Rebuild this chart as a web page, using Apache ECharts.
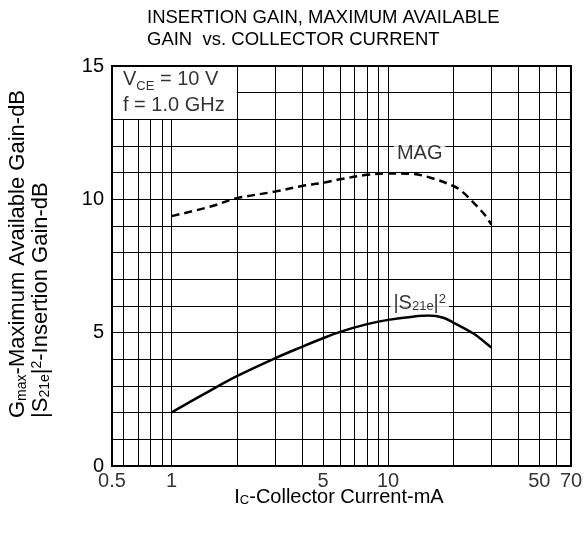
<!DOCTYPE html>
<html><head><meta charset="utf-8">
<script src="https://cdn.jsdelivr.net/npm/echarts@6/dist/echarts.min.js"></script>
<style>html,body{margin:0;padding:0;background:#fff}#c{width:587px;height:533px}</style>
</head><body><div id="c"></div>
<script>
// ---- data ----
const magCurrent = [1, 1.5, 2, 3, 4, 5, 6, 8, 10, 13, 16, 20, 22, 25, 28, 30];
const magGain    = [9.37, 9.72, 10.04, 10.29, 10.5, 10.62, 10.75, 10.92, 10.97, 10.95, 10.79, 10.5, 10.29, 9.85, 9.41, 9.05];
const s21Current = [1, 1.5, 2, 3, 4, 5, 6, 8, 10, 13, 15.5, 18, 20, 25, 28, 30];
const s21Gain    = [2.01, 2.82, 3.37, 4.04, 4.47, 4.79, 5.03, 5.32, 5.48, 5.6, 5.64, 5.56, 5.38, 4.95, 4.64, 4.44];
const xTickValues = [0.5, 1, 5, 10, 50, 70];
const xTickLabels = ['0.5', '1', '5', '10', '50', '70'];
const xGridValues = [0.6, 0.7, 0.8, 0.9, 1, 2, 3, 4, 5, 6, 7, 8, 9, 10, 20, 30, 40, 50, 60];
const yGridValues = [1, 2, 3, 4, 5, 6, 7, 8, 9, 10, 11, 12, 13, 14];
const yTickLabelsEvery = 5;
const xMin = 0.53, xMax = 70, yMin = 0, yMax = 15;
// condition box (top-left) spans x: xMin..2, y: 13..15
const boxX = 2, boxY = 13;

const FONT = 'Liberation Sans, Arial, sans-serif';
const chart = echarts.init(document.getElementById('c'), null, {renderer: 'canvas'});

const rich = {
  n: {fontSize: 20, fontFamily: FONT, color: '#000'},
  s: {fontSize: 13, fontFamily: FONT, color: '#000', verticalAlign: 'bottom'},
  p: {fontSize: 13, fontFamily: FONT, color: '#000', verticalAlign: 'top'}
};
const grich = {
  n: {fontSize: 22, fontFamily: FONT, fill: '#000'},
  s: {fontSize: 14, fontFamily: FONT, fill: '#000', verticalAlign: 'bottom'},
  p: {fontSize: 14, fontFamily: FONT, fill: '#000', verticalAlign: 'top'}
};

// grid line segments, leaving the condition box clear
const gridSegments = [];
xGridValues.forEach(v => {
  const top = v < boxX ? boxY : yMax;
  gridSegments.push([{coord: [v, yMin]}, {coord: [v, top]}]);
});
yGridValues.forEach(v => {
  const left = v > boxY ? boxX : xMin;
  gridSegments.push([{coord: [left, v]}, {coord: [xMax, v]}]);
});

chart.setOption({
  animation: false,
  backgroundColor: '#fff',
  grid: {left: 112, top: 66, right: 16, bottom: 67, show: true, borderColor: '#000', borderWidth: 2, backgroundColor: 'transparent'},
  xAxis: {
    type: 'log', logBase: 10, min: xMin, max: xMax,
    axisLine: {show: false}, axisTick: {show: false}, axisLabel: {show: false}, splitLine: {show: false}
  },
  yAxis: {
    type: 'value', min: yMin, max: yMax, interval: 1,
    axisLine: {show: false}, axisTick: {show: false},
    axisLabel: {color: '#000', fontSize: 20, fontFamily: FONT, margin: 8,
      formatter: v => (v % yTickLabelsEvery === 0 ? String(v) : '')},
    splitLine: {show: false}
  },
  graphic: [
    {type: 'text', left: 147, top: 7, style: {text: 'INSERTION GAIN, MAXIMUM AVAILABLE\nGAIN  vs. COLLECTOR CURRENT', font: '18.5px ' + FONT, fill: '#000', lineHeight: 22}},
    {type: 'text', x: 339, y: 497, style: {text: '{n|I}{s|C}{n|-Collector Current-mA}', rich: {n: {fontSize: 20, fontFamily: FONT, fill: '#000'}, s: {fontSize: 13, fontFamily: FONT, fill: '#000', verticalAlign: 'bottom'}}, align: 'center', verticalAlign: 'middle'}},
    {type: 'text', x: 18, y: 418, rotation: Math.PI / 2,
      style: {text: '{n|G}{s|max}{n|-Maximum Available Gain-dB}', rich: grich, align: 'left', verticalAlign: 'middle'}},
    {type: 'text', x: 41, y: 418, rotation: Math.PI / 2,
      style: {text: '{n||S}{s|21e}{n||}{p|2}{n|-Insertion Gain-dB}', rich: grich, align: 'left', verticalAlign: 'middle'}}
  ],
  series: [
    {
      type: 'line', name: 'grid', data: [], z: 1, silent: true,
      markLine: {
        silent: true, symbol: ['none', 'none'], label: {show: false},
        lineStyle: {color: '#000', width: 1, type: 'solid'},
        data: gridSegments
      }
    },
    {
      type: 'line', name: 'MAG', z: 6,
      data: magCurrent.map((x, i) => [x, magGain[i]]),
      smooth: 0.35, symbol: 'none', showSymbol: false,
      lineStyle: {color: '#000', width: 2.5, type: [8, 5]}
    },
    {
      type: 'line', name: 'S21', z: 6,
      data: s21Current.map((x, i) => [x, s21Gain[i]]),
      smooth: 0.35, symbol: 'none', showSymbol: false,
      lineStyle: {color: '#000', width: 2.5, type: 'solid'}
    },
    {
      type: 'scatter', name: 'curveLabels', z: 7, symbolSize: 0, silent: true,
      data: [
        {value: [14, 11.72], label: {formatter: '{n|MAG}'}},
        {value: [14, 6.1], label: {formatter: '{n||S}{s|21e}{n||}{p|2}'}}
      ],
      label: {show: true, position: 'inside', backgroundColor: '#fff', padding: [1, 3, 1, 3], rich: rich}
    },
    {
      type: 'scatter', name: 'conditions', z: 7, symbolSize: 0, silent: true, clip: false,
      data: [{value: [xMin, (boxY + yMax) / 2]}],
      label: {show: true, position: 'right', distance: 11, lineHeight: 26,
        formatter: '{n|V}{s|CE}{n| = 10 V}\n{n|f = 1.0 GHz}', rich: rich}
    },
    {
      type: 'scatter', name: 'xTicks', z: 7, symbolSize: 0, silent: true, clip: false,
      data: xTickValues.map((v, i) => ({value: [Math.max(v, xMin), yMin], label: {formatter: xTickLabels[i]}})),
      label: {show: true, position: 'bottom', distance: 5, color: '#000', fontSize: 20, fontFamily: FONT}
    }
  ]
});
</script></body></html>
